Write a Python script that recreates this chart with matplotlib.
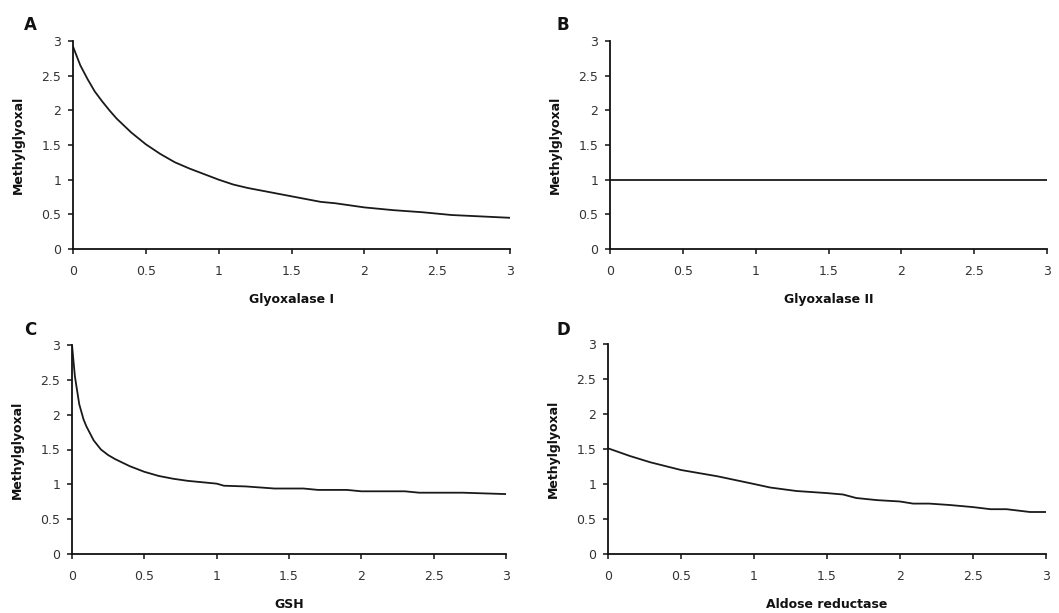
import matplotlib
matplotlib.use("Agg")
import matplotlib.pyplot as plt

plt.rcParams['font.family'] = ['DejaVu Sans']

# ---- data ----
panel_letters = ["A", "B", "C", "D"]
x_labels = ["Glyoxalase I", "Glyoxalase II", "GSH", "Aldose reductase"]
y_label = "Methylglyoxal"
tick_values = [0, 0.5, 1, 1.5, 2, 2.5, 3]
tick_labels = ["0", "0.5", "1", "1.5", "2", "2.5", "3"]

glo1_x = [0, 0.05, 0.1, 0.15, 0.2, 0.25, 0.3, 0.4, 0.5, 0.6, 0.7, 0.8, 0.9, 1.0,
          1.1, 1.2, 1.3, 1.4, 1.5, 1.6, 1.7, 1.8, 1.9, 2.0, 2.2, 2.4, 2.6, 2.8, 3.0]
glo1_y = [2.92, 2.65, 2.45, 2.27, 2.13, 2.0, 1.88, 1.68, 1.51, 1.37, 1.25, 1.16, 1.08, 1.0,
          0.93, 0.88, 0.84, 0.8, 0.76, 0.72, 0.68, 0.66, 0.63, 0.6, 0.56, 0.53, 0.49, 0.47, 0.45]

glo2_x = [0, 3.0]
glo2_y = [1.0, 1.0]

gsh_x = [0, 0.02, 0.05, 0.08, 0.1, 0.15, 0.2, 0.25, 0.3, 0.4, 0.5, 0.6, 0.7, 0.8, 0.9,
         1.0, 1.05, 1.2, 1.4, 1.6, 1.7, 1.9, 2.0, 2.3, 2.4, 2.7, 3.0]
gsh_y = [3.0, 2.55, 2.15, 1.93, 1.83, 1.63, 1.5, 1.42, 1.36, 1.26, 1.18, 1.12, 1.08, 1.05, 1.03,
         1.01, 0.98, 0.97, 0.94, 0.94, 0.92, 0.92, 0.9, 0.9, 0.88, 0.88, 0.86]

ar_x = [0, 0.15, 0.29, 0.5, 0.75, 1.0, 1.11, 1.29, 1.5, 1.61, 1.7, 1.84, 2.0, 2.09,
        2.2, 2.34, 2.5, 2.62, 2.73, 2.89, 3.0]
ar_y = [1.51, 1.40, 1.31, 1.20, 1.11, 1.0, 0.95, 0.90, 0.87, 0.85, 0.80, 0.77, 0.75, 0.72,
        0.72, 0.70, 0.67, 0.64, 0.64, 0.60, 0.60]

series_x = [glo1_x, glo2_x, gsh_x, ar_x]
series_y = [glo1_y, glo2_y, gsh_y, ar_y]

# ---- layout (pixels) ----
W, H = 1059, 613
boxes = [(73, 41, 510, 249), (610, 41, 1047, 249), (72, 345, 506, 554), (608, 344, 1046, 554)]
letter_pos = [(30, 25), (563, 25), (30, 330), (563, 330)]

fig = plt.figure(figsize=(W / 100, H / 100), dpi=100)
fig.patch.set_facecolor('white')

for i in range(4):
    l, t, r, b = boxes[i]
    ax = fig.add_axes([l / W, 1 - b / H, (r - l) / W, (b - t) / H])
    ax.plot(series_x[i], series_y[i], color='#1a1a1a', lw=1.3)
    ax.set_xlim(0, 3)
    ax.set_ylim(0, 3)
    ax.set_xticks(tick_values)
    ax.set_xticklabels(tick_labels)
    ax.set_yticks(tick_values)
    ax.set_yticklabels(tick_labels)
    for s in ['top', 'right']:
        ax.spines[s].set_visible(False)
    for s in ['left', 'bottom']:
        ax.spines[s].set_linewidth(1.3)
        ax.spines[s].set_color('#111111')
    ax.tick_params(axis='both', direction='out', length=3.5, width=1.1,
                   labelsize=9, labelcolor='#333333', color='#111111')
    ax.tick_params(axis='x', pad=8)
    ax.tick_params(axis='y', pad=5)
    ax.set_xlabel(x_labels[i], fontsize=9, fontweight='bold', labelpad=11, color='#111111')
    ax.set_ylabel(y_label, fontsize=9, fontweight='bold', labelpad=11.5, color='#111111')
    lx, ly = letter_pos[i]
    fig.text(lx / W, 1 - ly / H, panel_letters[i], fontsize=12, fontweight='bold',
             ha='center', va='center', color='#111111')

fig.savefig("out.png", dpi=100, facecolor='white')
